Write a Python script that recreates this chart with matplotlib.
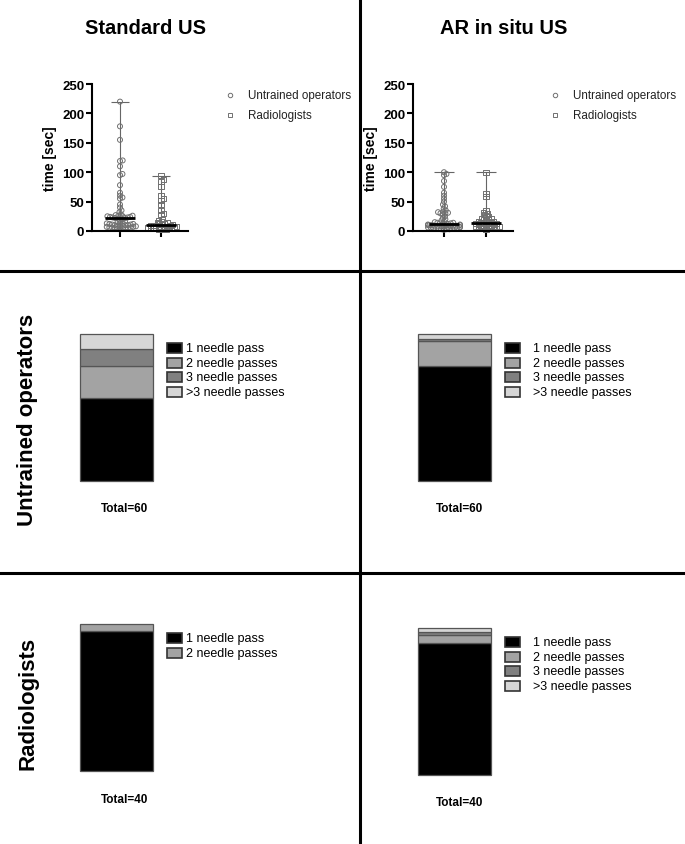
import numpy as np
import matplotlib
matplotlib.use("Agg")
import matplotlib.pyplot as plt
from matplotlib.patches import Rectangle

plt.rcParams['font.family'] = ['Liberation Sans', 'DejaVu Sans']

W, H = 685, 845

# ---------------- data ----------------
col_titles = ["Standard US", "AR in situ US"]
row_titles = ["Untrained operators", "Radiologists"]
group_labels = ["Untrained operators", "Radiologists"]
ylabel = "time [sec]"
yticks = [0, 50, 100, 150, 200, 250]

std_untrained = [220, 178, 155, 120, 119, 110, 97, 95, 78, 65, 60, 57, 55, 45, 40,
                 35, 32, 28, 27, 26, 26, 25, 25, 24, 24, 23, 23, 23, 22, 22,
                 21, 20, 18, 16, 15, 14, 13, 13, 12, 12, 11, 11, 10, 10, 10,
                 9, 9, 8, 8, 7, 7, 6, 6, 6, 5, 5, 5, 4, 4, 3]
std_radiol = [94, 88, 85, 75, 60, 55, 52, 45, 35, 30, 28, 20, 18, 16, 15, 14, 13, 12, 11, 11,
              10, 10, 9, 9, 8, 8, 7, 7, 7, 6, 6, 5, 5, 5, 4, 4, 3, 3, 3, 2]
ar_untrained = [100, 97, 95, 85, 75, 65, 60, 55, 50, 45, 42, 38, 35, 33, 32,
                31, 30, 30, 28, 25, 22, 20, 18, 16, 15, 14, 14, 13, 13, 12,
                12, 11, 11, 11, 10, 10, 10, 10, 9, 9, 9, 8, 8, 8, 7,
                7, 7, 6, 6, 6, 5, 5, 5, 4, 4, 4, 3, 3, 3, 2]
ar_radiol = [100, 63, 58, 35, 32, 30, 28, 25, 24, 22, 21, 20, 19, 18, 17, 16, 15, 15, 14, 14,
             13, 12, 12, 11, 11, 10, 10, 9, 9, 8, 8, 7, 7, 6, 6, 5, 5, 4, 4, 3]

pass_labels = ["1 needle pass", "2 needle passes", "3 needle passes", ">3 needle passes"]
pass_colors = ["#000000", "#a3a3a3", "#808080", "#d6d6d6"]
std_untrained_passes = [34, 13, 7, 6]
ar_untrained_passes = [47, 10, 1, 2]
std_radiol_passes = [38, 2]
ar_radiol_passes = [36, 2, 1, 1]


def rect(x0, y0, x1, y1):
    return [x0 / W, 1 - y1 / H, (x1 - x0) / W, (y1 - y0) / H]


def swarm(vals, ypx, xpx, d, maxoff):
    vals = np.asarray(vals, float)
    order = np.argsort(vals)
    placed = []
    offs = np.zeros(len(vals))
    for i in order:
        y = vals[i] * ypx
        cands = [0.0]
        for xo, yo in placed:
            dy = y - yo
            if abs(dy) < d:
                dx = np.sqrt(d * d - dy * dy)
                cands += [xo + dx, xo - dx]
        cands.sort(key=abs)
        c = 0.0
        for c in cands:
            if all((c - xo) ** 2 + (y - yo) ** 2 >= d * d - 1e-6 for xo, yo in placed):
                break
        c = float(np.clip(c, -maxoff, maxoff))
        placed.append((c, y))
        offs[i] = c / xpx
    return offs


fig = plt.figure(figsize=(W / 100, H / 100), dpi=100)

ov = fig.add_axes([0, 0, 1, 1])
ov.set_xlim(0, W)
ov.set_ylim(H, 0)
ov.axis('off')

# dividers
ov.plot([360, 360], [0, H], color='black', lw=2.2)
ov.plot([0, W], [272, 272], color='black', lw=2.2)
ov.plot([0, W], [574, 574], color='black', lw=2.2)

# titles
ov.text(146, 28, col_titles[0], ha='center', va='center', fontsize=14.5, fontweight='bold')
ov.text(504, 28, col_titles[1], ha='center', va='center', fontsize=14.5, fontweight='bold')
ov.text(28, 420, row_titles[0], ha='center', va='center', rotation=90, fontsize=16, fontweight='bold')
ov.text(28, 703, row_titles[1], ha='center', va='center', rotation=90, fontsize=16, fontweight='bold')

# ---------------- scatter panels ----------------
scatter_specs = [
    (rect(92, 85, 188, 232), (92, 188, 120, 161), std_untrained, std_radiol, (230, 248)),
    (rect(413, 85, 513, 232), (413, 513, 444, 486), ar_untrained, ar_radiol, (555, 573)),
]
for pos, (ax0, ax1, c0, c1), g1, g2, (lx, tx) in scatter_specs:
    ax = fig.add_axes(pos)
    xpx = c1 - c0
    xmin = (ax0 - c0) / xpx
    xmax = (ax1 - c0) / xpx
    ypx = 147 / 250
    for k, (vals, mk) in enumerate([(g1, 'o'), (g2, 's')]):
        offs = swarm(vals, ypx, xpx, 2.7, 16)
        vals = np.asarray(vals, float)
        ax.vlines(k, vals.min(), vals.max(), color='#666666', lw=0.8, zorder=1)
        ax.hlines([vals.max(), vals.min()], k - 0.23, k + 0.23, color='#666666', lw=0.8, zorder=1)
        ax.scatter(k + offs, vals, marker=mk, s=13, facecolors='none', edgecolors='#707070',
                   linewidths=0.7, zorder=2, clip_on=False)
        ax.hlines(np.median(vals), k - 0.36, k + 0.36, color='black', lw=2, zorder=3)
    ax.set_xlim(xmin, xmax)
    ax.set_ylim(0, 250)
    ax.set_yticks(yticks)
    ax.set_yticklabels([str(t) for t in yticks], fontsize=9.5, fontweight='bold')
    ax.set_xticks([0, 1])
    ax.set_xticklabels([])
    for s in ['top', 'right']:
        ax.spines[s].set_visible(False)
    for s in ['left', 'bottom']:
        ax.spines[s].set_linewidth(1.5)
    ax.tick_params(width=1.5, length=4, pad=1.5)
    ax.set_ylabel(ylabel, fontsize=10, fontweight='bold', labelpad=4)
    ax.patch.set_alpha(0)
    # legend
    ov.plot(lx, 96, marker='o', ms=3.2, mfc='none', mec='#707070', mew=0.7)
    ov.plot(lx, 116, marker='s', ms=3.2, mfc='none', mec='#707070', mew=0.7)
    ov.text(tx, 96, group_labels[0], fontsize=8.4, va='center', ha='left', color='#222222')
    ov.text(tx, 116, group_labels[1], fontsize=8.4, va='center', ha='left', color='#222222')

# ---------------- stacked bar panels ----------------
bar_specs = [
    (rect(80, 335, 153, 482), std_untrained_passes, (167, 186, 349), (125, 509)),
    (rect(418, 335, 491, 482), ar_untrained_passes, (505, 533, 349), (460, 509)),
    (rect(80, 625, 153, 772), std_radiol_passes, (167, 186, 639), (125, 800)),
    (rect(418, 629, 491, 776), ar_radiol_passes, (505, 533, 643), (460, 803)),
]
for pos, counts, (bx, tx, ly), (totx, toty) in bar_specs:
    ax = fig.add_axes(pos)
    bottom = 0
    for c, col in zip(counts, pass_colors):
        ax.bar(0, c, bottom=bottom, width=1.0, color=col, edgecolor='#555555', lw=0.9, clip_on=False)
        bottom += c
    ax.set_xlim(-0.5, 0.5)
    ax.set_ylim(0, sum(counts))
    ax.axis('off')
    for i, (lab, col) in enumerate(zip(pass_labels[:len(counts)], pass_colors)):
        y = ly + i * 14.7
        ov.add_patch(Rectangle((bx, y - 5), 15, 10, facecolor=col, edgecolor='#333333', lw=1.2))
        ov.text(tx, y, lab, fontsize=9, va='center', ha='left')
    ov.text(totx, toty, "Total=%d" % sum(counts), fontsize=8.5, fontweight='bold', ha='center', va='center')

fig.savefig("out.png", dpi=100)
